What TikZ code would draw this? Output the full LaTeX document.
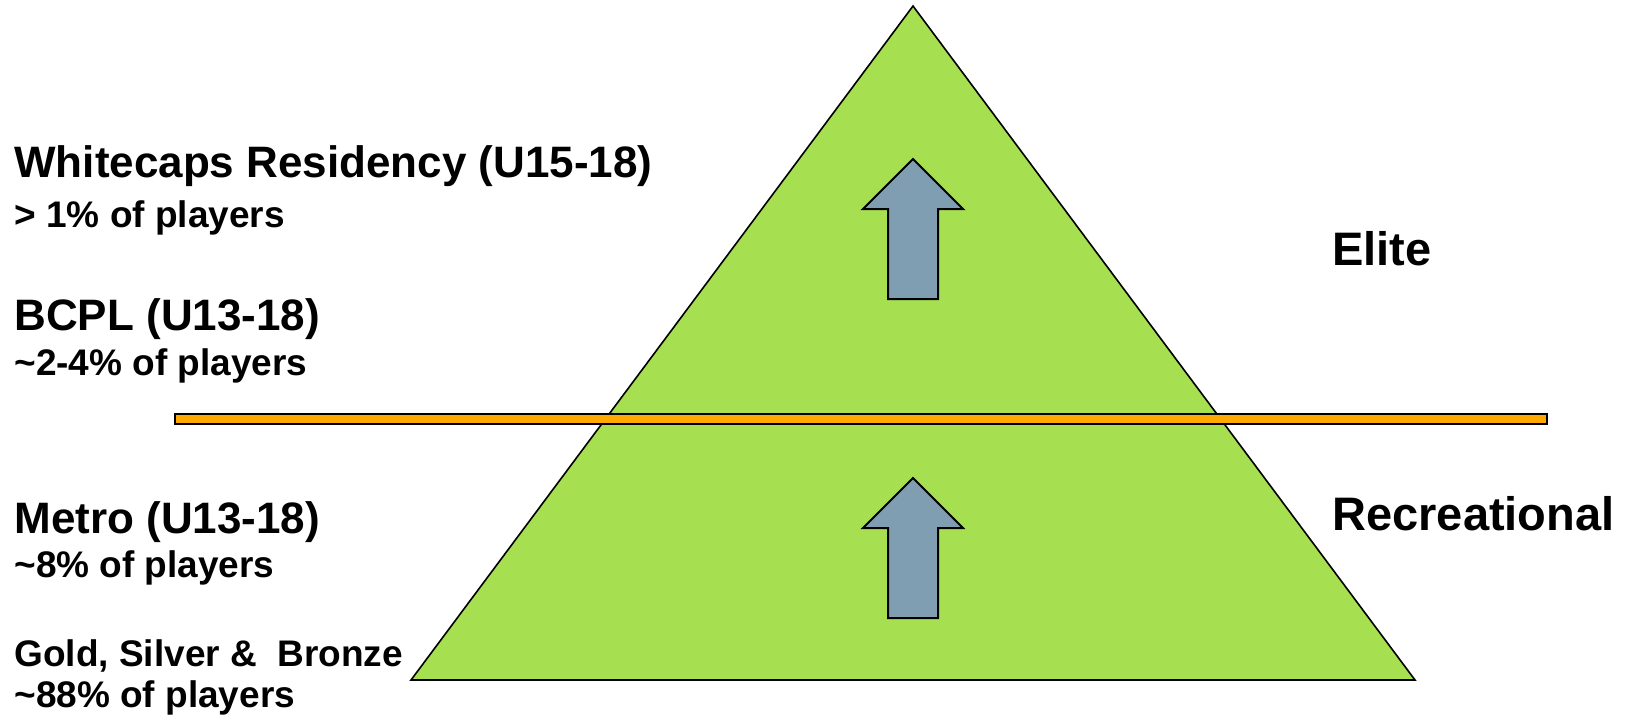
\documentclass[tikz,border=0pt]{standalone}
\usepackage{fontspec}
\setmainfont{Liberation Sans}
\definecolor{pyrgreen}{RGB}{166,223,80}
\definecolor{barorange}{RGB}{255,168,0}
\definecolor{arrblue}{RGB}{128,158,178}

\begin{document}
\begin{tikzpicture}[x=0.5pt,y=-0.5pt,
    title/.style={anchor=base west,inner sep=0pt,font=\bfseries\fontsize{22}{26}\selectfont},
    share/.style={anchor=base west,inner sep=0pt,font=\bfseries\fontsize{18.5}{22}\selectfont},
    level/.style={anchor=base west,inner sep=0pt,font=\bfseries\fontsize{23.5}{28}\selectfont}]
  \useasboundingbox (0,0) rectangle (1625,720);
  \coordinate (T) at (913,6); \coordinate (L) at (411,680); \coordinate (R) at (1415,680);
  \draw[fill=pyrgreen,line width=0.8pt] (L)--(T)--(R)--cycle;
  \draw[fill=barorange,line width=1pt] (175,414) rectangle (1547,424);
  \foreach \ty in {159,478}
    \draw[fill=arrblue,line width=1pt] (913,\ty) -- (963,{\ty+50}) -- (938,{\ty+50}) -- (938,{\ty+140})
      -- (888,{\ty+140}) -- (888,{\ty+50}) -- (863,{\ty+50}) -- cycle;
  \node[title] (wc) at (14,177) {Whitecaps Residency (U15-18)};
  \node[share] (wcs) at (14,227) {> 1\% of players};
  \node[title] (bcpl) at (14,330) {BCPL (U13-18)};
  \node[share] (bcpls) at (14,375) {\textasciitilde2-4\% of players};
  \node[title] (metro) at (14,533) {Metro (U13-18)};
  \node[share] (metros) at (14,577) {\textasciitilde8\% of players};
  \node[share] (gsb) at (14,666) {Gold, Silver \&~ Bronze};
  \node[share] (gsbs) at (14,707) {\textasciitilde88\% of players};
  \node[level] (elite) at (1332,265) {Elite};
  \node[level] (rec) at (1332,530) {Recreational};
\end{tikzpicture}
\end{document}
